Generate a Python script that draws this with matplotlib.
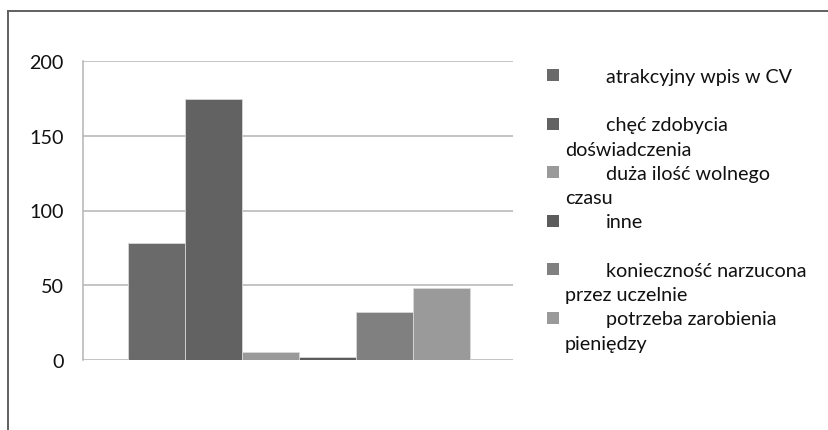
import textwrap
import matplotlib
matplotlib.use("Agg")
import matplotlib.pyplot as plt
from matplotlib.patches import Rectangle
from matplotlib.lines import Line2D

plt.rcParams['font.family'] = ['Lato', 'DejaVu Sans']

categories = [
    "atrakcyjny wpis w CV",
    "chęć zdobycia doświadczenia",
    "duża ilość wolnego czasu",
    "inne",
    "konieczność narzucona przez uczelnie",
    "potrzeba zarobienia pieniędzy",
]
values = [78, 175, 5, 2, 32, 48]
colors = ["#6a6a6a", "#626262", "#9a9a9a", "#5c5c5c", "#808080", "#9a9a9a"]
yticks = [0, 50, 100, 150, 200]

W, H = 829, 431
FS = 14.2
TXT = "#111111"
fig = plt.figure(figsize=(W / 100, H / 100), dpi=100)

# outer frame (left and top edges)
fig.add_artist(Line2D([8 / W, 8 / W], [0, 1 - 12 / H], transform=fig.transFigure,
                      color="#606060", lw=1.4))
fig.add_artist(Line2D([8 / W, 1], [1 - 12 / H, 1 - 12 / H], transform=fig.transFigure,
                      color="#606060", lw=1.4))

ax = fig.add_axes([83 / W, (H - 360.7) / H, 430 / W, 298.4 / H])
x = list(range(len(values)))
ax.bar(x, values, width=1.0, color=colors, edgecolor="#d8d8d8", linewidth=0.6, zorder=3)
ax.set_xlim(-0.5 - 45 / 57, 5.5 + 43 / 57)
ax.set_ylim(0, 200)
ax.set_yticks(yticks)
ax.set_yticklabels([str(v) for v in yticks], fontsize=FS, color=TXT)
ax.tick_params(axis="y", length=0, pad=14)
ax.set_xticks([])
ax.grid(axis="y", color="#b4b4b4", lw=1.1, zorder=0)
for s in ["top", "right", "bottom"]:
    ax.spines[s].set_visible(False)
ax.spines["left"].set_color("#b4b4b4")
ax.spines["left"].set_linewidth(1.1)

# legend, drawn in figure pixels
y0, step = 76, 48.6
for i, (lab, col) in enumerate(zip(categories, colors)):
    yc = y0 + i * step
    fig.add_artist(Rectangle(((547) / W, 1 - (yc + 6) / H), 12 / W, 12 / H,
                             transform=fig.transFigure, facecolor=col, edgecolor="none"))
    lines = textwrap.wrap(lab, width=21)
    fig.text(606 / W, 1 - (yc + 1) / H, lines[0], fontsize=FS, color=TXT,
             va="center", ha="left")
    for k, ln in enumerate(lines[1:], start=1):
        fig.text(565 / W, 1 - (yc + 1 + 24.5 * k) / H, ln, fontsize=FS, color=TXT,
                 va="center", ha="left")

fig.savefig("out.png", dpi=100, facecolor="white")
